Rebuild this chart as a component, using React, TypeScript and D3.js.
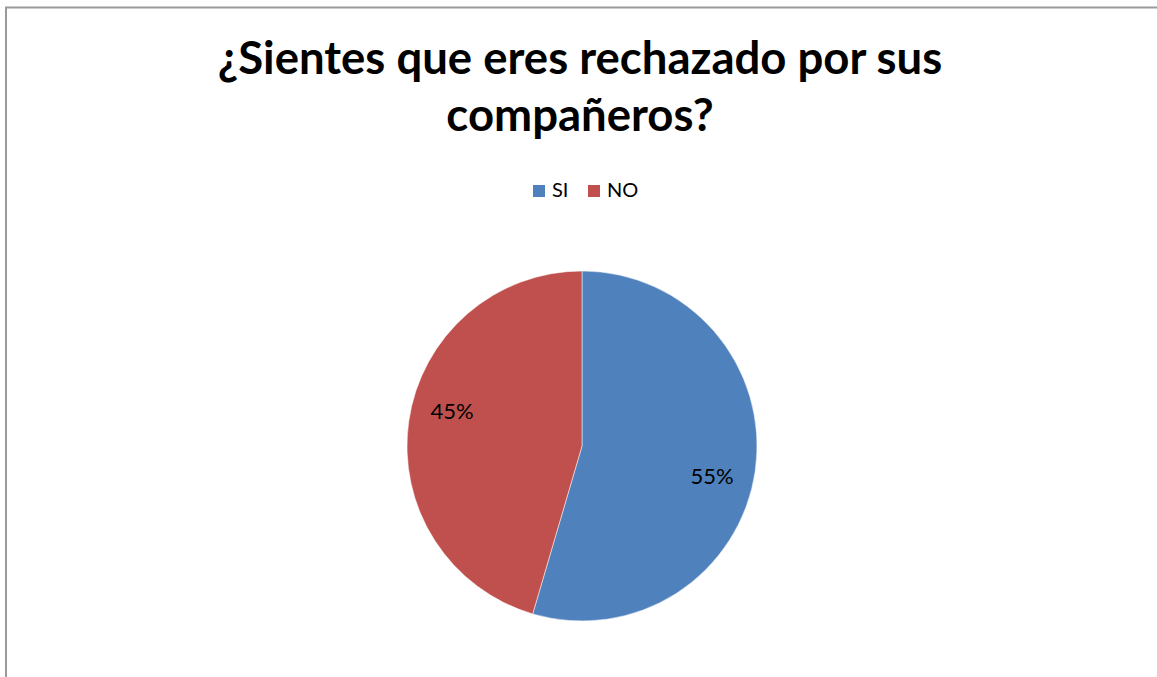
import React from "react";
import * as d3 from "d3";

const categories = ["SI", "NO"];
const values = [6, 5];
const colors = ["#4F81BD", "#C0504D"];
const titleLines = ["¿Sientes que eres rechazado por sus", "compañeros?"];

export default function App() {
  const W = 1157, H = 677;
  const cx = 582, cy = 446, r = 175;
  const pie = d3.pie<number>().sort(null).value((d) => d);
  const arcs = pie(values);
  const arc = d3.arc<d3.PieArcDatum<number>>().innerRadius(0).outerRadius(r);
  const labelR = r * 0.766;
  const labelRot = (6 * Math.PI) / 180;
  const total = d3.sum(values);
  const font = "Lato, 'Open Sans', sans-serif";
  const legendX = [533, 588];
  return (
    <svg width={W} height={H} style={{ position: "fixed", left: 0, top: 0 }}>
      <rect x={0} y={0} width={W} height={H} fill="#fff" />
      <rect x={6} y={7.5} width={W + 10} height={H + 10} fill="none" stroke="#9a9a9a" strokeWidth={2} />
      {titleLines.map((t, i) => (
        <text key={i} x={580} y={74 + i * 57} textAnchor="middle" fontFamily={font} fontWeight={700} fontSize={45.5} fill="#000">
          {t}
        </text>
      ))}
      <g fontFamily={font} fontSize={20}>
        {categories.map((c, i) => (
          <g key={c}>
            <rect x={legendX[i]} y={185} width={12} height={12} fill={colors[i]} />
            <text x={legendX[i] + 19} y={197} fill="#000">{c}</text>
          </g>
        ))}
      </g>
      <g transform={`translate(${cx},${cy})`}>
        {arcs.map((a, i) => (
          <path key={i} d={arc(a) || ""} fill={colors[i]} stroke="#fff" strokeWidth={0.5} />
        ))}
        {arcs.map((a, i) => {
          const mid = (a.startAngle + a.endAngle) / 2 + labelRot;
          const [lx, ly] = d3.pointRadial(mid, labelR);
          return (
            <text key={"l" + i} x={lx} y={ly} textAnchor="middle" dominantBaseline="middle" fontFamily={font} fontSize={22} fill="#000">
              {Math.round((a.data / total) * 100)}%
            </text>
          );
        })}
      </g>
    </svg>
  );
}
